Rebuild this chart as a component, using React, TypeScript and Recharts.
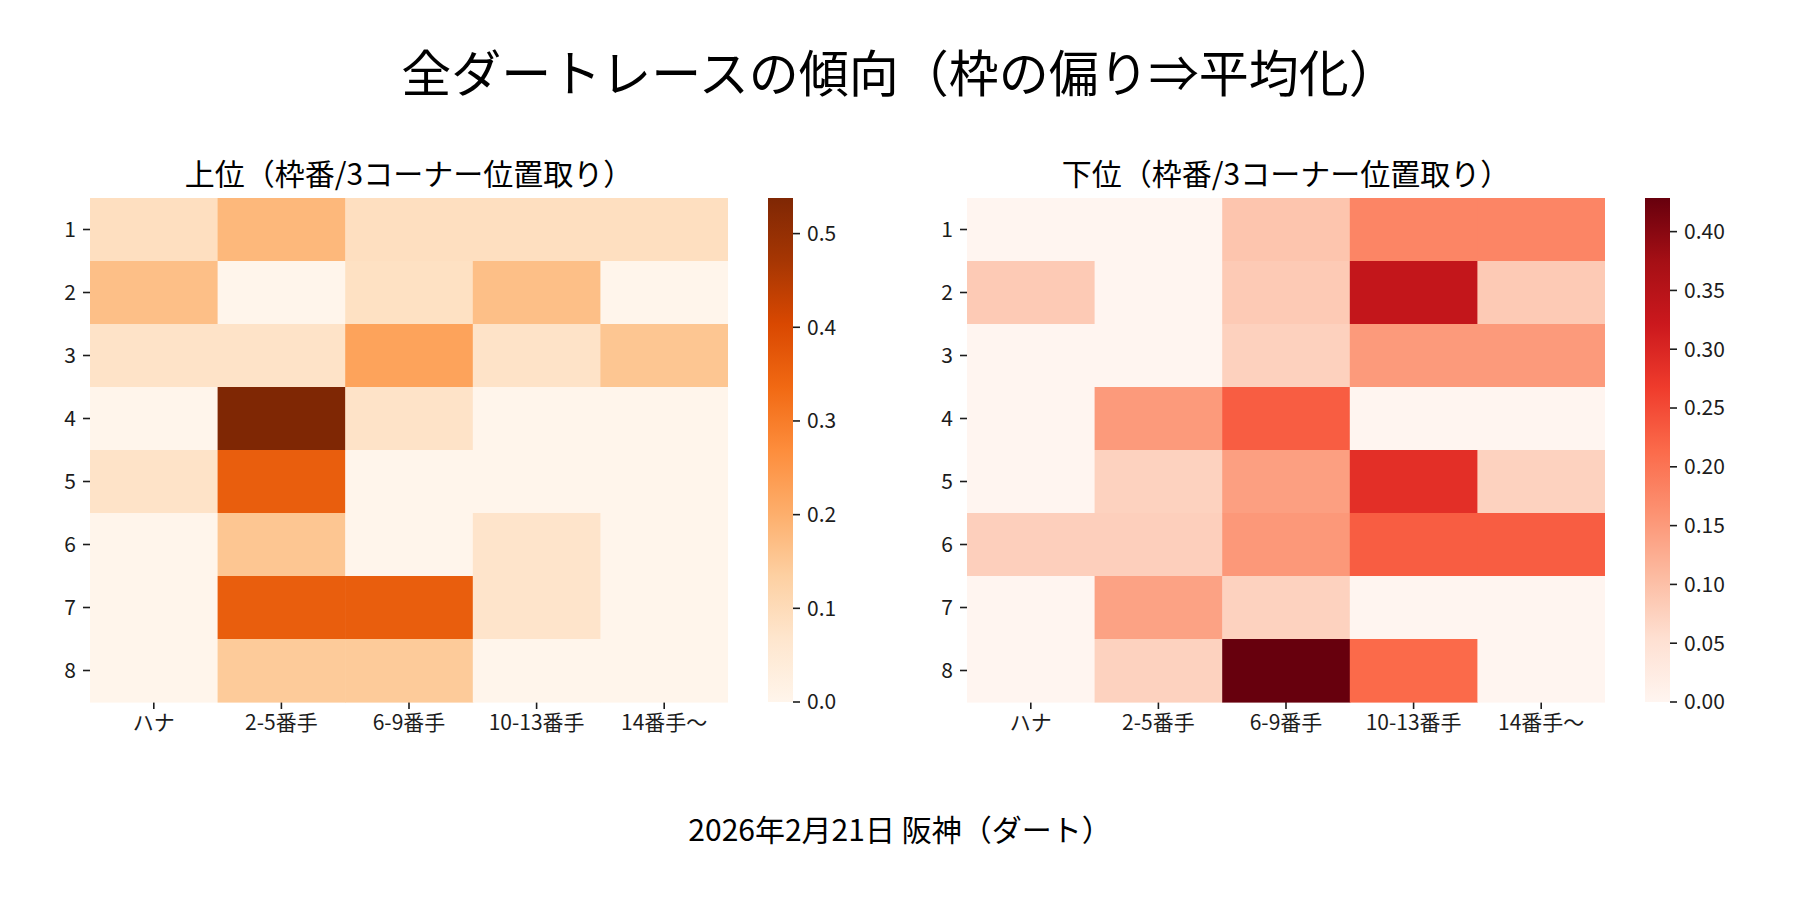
import React from "react";
import { Bar, BarChart, Scatter, ScatterChart, XAxis, YAxis } from "recharts";

// Two seaborn-style heatmaps (frame number × position at the 3rd corner),
// each with its own colourbar. Cells are drawn as scatter points with a
// rect shape so the axes' own scales place them.

const FONT = '"Noto Sans CJK JP", "Noto Sans", sans-serif';
const INK = "#1c1c1c";

const positions = ["ハナ", "2-5番手", "6-9番手", "10-13番手", "14番手〜"];
const frames = ["1", "2", "3", "4", "5", "6", "7", "8"];

// 上位 (Oranges)
const topValues = [
  [0.088, 0.182, 0.088, 0.088, 0.088],
  [0.168, 0.0, 0.084, 0.168, 0.0],
  [0.077, 0.077, 0.224, 0.077, 0.154],
  [0.0, 0.538, 0.077, 0.0, 0.0],
  [0.077, 0.359, 0.0, 0.0, 0.0],
  [0.0, 0.154, 0.0, 0.072, 0.0],
  [0.0, 0.359, 0.359, 0.072, 0.0],
  [0.0, 0.144, 0.144, 0.0, 0.0],
];
const topMax = 0.538;
const topTicks = [0, 0.1, 0.2, 0.3, 0.4, 0.5];

// 下位 (Reds)
const bottomValues = [
  [0.0, 0.0, 0.093, 0.178, 0.178],
  [0.085, 0.0, 0.085, 0.333, 0.085],
  [0.0, 0.0, 0.075, 0.15, 0.15],
  [0.0, 0.15, 0.229, 0.0, 0.0],
  [0.0, 0.074, 0.144, 0.286, 0.074],
  [0.078, 0.078, 0.153, 0.229, 0.229],
  [0.0, 0.14, 0.074, 0.0, 0.0],
  [0.0, 0.074, 0.4286, 0.214, 0.0],
];
const bottomMax = 0.4286;
const bottomTicks = [0, 0.05, 0.1, 0.15, 0.2, 0.25, 0.3, 0.35, 0.4];

const ORANGES = ["#fff5eb", "#fee6ce", "#fdd0a2", "#fdae6b", "#fd8d3c", "#f16913", "#d94801", "#a63603", "#7f2704"];
const REDS = ["#fff5f0", "#fee0d2", "#fcbba1", "#fc9272", "#fb6a4a", "#ef3b2c", "#cb181d", "#a50f15", "#67000d"];

// layout of one panel
const PLOT_TOP = 198;
const PLOT_W = 638;
const PLOT_H = 504;
const YAXIS_W = 90;
const CB_GAP = 40;
const CB_W = 25;
const CB_PAD = 24; // room under the colourbar for its lowest label

function hexToRgb(h: string) {
  return [1, 3, 5].map((i) => parseInt(h.slice(i, i + 2), 16));
}

function sample(palette: string[], t: number) {
  const tt = Math.max(0, Math.min(1, t)) * (palette.length - 1);
  const i = Math.min(Math.floor(tt), palette.length - 2);
  const f = tt - i;
  const a = hexToRgb(palette[i]);
  const b = hexToRgb(palette[i + 1]);
  const c = a.map((v, k) => Math.round(v + (b[k] - v) * f));
  return `rgb(${c[0]},${c[1]},${c[2]})`;
}

interface PanelProps {
  id: string;
  left: number;
  title: string;
  values: number[][];
  palette: string[];
  vmax: number;
  ticks: number[];
  digits: number;
}

function Panel({ id, left, title, values, palette, vmax, ticks, digits }: PanelProps) {
  const cells = values.flatMap((row, r) => row.map((v, c) => ({ x: c, y: r + 1, v })));
  const cellW = PLOT_W / positions.length;
  const cellH = PLOT_H / frames.length;
  const tickStyle = { fontSize: 21, fill: INK, fontFamily: FONT };
  const tickLine = { stroke: INK, strokeWidth: 1.6 };

  return (
    <>
      <div
        style={{
          position: "absolute",
          left: left + YAXIS_W - 40,
          top: 157,
          width: PLOT_W + 80,
          textAlign: "center",
          fontFamily: FONT,
          fontSize: 30,
          lineHeight: "30px",
          color: "#000",
          whiteSpace: "nowrap",
        }}
      >
        {title}
      </div>
      <div style={{ position: "absolute", left, top: 0 }}>
        <ScatterChart
          width={YAXIS_W + PLOT_W}
          height={PLOT_TOP + PLOT_H + 60}
          margin={{ top: PLOT_TOP, right: 0, bottom: 0, left: 0 }}
        >
          <XAxis
            type="number"
            dataKey="x"
            domain={[-0.5, positions.length - 0.5]}
            ticks={positions.map((_, i) => i)}
            tickFormatter={(i: number) => positions[i] ?? ""}
            interval={0}
            axisLine={false}
            tickSize={7}
            tickMargin={6}
            tickLine={tickLine}
            tick={tickStyle}
            height={60}
          />
          <YAxis
            type="number"
            dataKey="y"
            reversed
            domain={[0.5, frames.length + 0.5]}
            ticks={frames.map((_, i) => i + 1)}
            tickFormatter={(v: number) => frames[v - 1] ?? ""}
            interval={0}
            axisLine={false}
            tickSize={7}
            tickMargin={7}
            tickLine={tickLine}
            tick={tickStyle}
            width={YAXIS_W}
          />
          <Scatter
            data={cells}
            isAnimationActive={false}
            shape={(p: any) => (
              <rect
                x={p.cx - cellW / 2}
                y={p.cy - cellH / 2}
                width={cellW + 0.6}
                height={cellH + 0.6}
                fill={sample(palette, p.payload.v / vmax)}
              />
            )}
          />
        </ScatterChart>
      </div>
      <div style={{ position: "absolute", left: left + YAXIS_W + PLOT_W + CB_GAP, top: 0 }}>
        <BarChart
          width={CB_W + 80}
          height={PLOT_TOP + PLOT_H + CB_PAD}
          margin={{ top: PLOT_TOP, right: 0, bottom: CB_PAD, left: 0 }}
          data={[{ k: "cb", v: vmax }]}
          barCategoryGap={0}
        >
          <defs>
            <linearGradient id={id} x1="0" y1="1" x2="0" y2="0">
              {palette.map((c, i) => (
                <stop key={i} offset={i / (palette.length - 1)} stopColor={c} />
              ))}
            </linearGradient>
          </defs>
          <XAxis dataKey="k" hide />
          <YAxis
            orientation="right"
            type="number"
            domain={[0, vmax]}
            ticks={ticks}
            tickFormatter={(v: number) => v.toFixed(digits)}
            interval={0}
            axisLine={false}
            tickSize={7}
            tickMargin={7}
            tickLine={tickLine}
            tick={tickStyle}
            width={80}
            allowDataOverflow
          />
          <Bar dataKey="v" fill={`url(#${id})`} isAnimationActive={false} />
        </BarChart>
      </div>
    </>
  );
}

export default function App() {
  return (
    <div
      style={{
        position: "absolute",
        left: 0,
        top: 0,
        width: 1800,
        height: 900,
        background: "#fff",
        fontFamily: FONT,
        overflow: "hidden",
      }}
    >
      <div
        style={{
          position: "absolute",
          left: 0,
          top: 45,
          width: 1800,
          textAlign: "center",
          fontSize: 50,
          lineHeight: "50px",
          color: "#000",
        }}
      >
        全ダートレースの傾向（枠の偏り⇒平均化）
      </div>
      <Panel
        id="cbTop"
        left={0}
        title="上位（枠番/3コーナー位置取り）"
        values={topValues}
        palette={ORANGES}
        vmax={topMax}
        ticks={topTicks}
        digits={1}
      />
      <Panel
        id="cbBottom"
        left={877}
        title="下位（枠番/3コーナー位置取り）"
        values={bottomValues}
        palette={REDS}
        vmax={bottomMax}
        ticks={bottomTicks}
        digits={2}
      />
      <div
        style={{
          position: "absolute",
          left: 0,
          top: 813,
          width: 1800,
          textAlign: "center",
          fontSize: 30,
          lineHeight: "30px",
          color: "#000",
        }}
      >
        2026年2月21日 阪神（ダート）
      </div>
    </div>
  );
}
